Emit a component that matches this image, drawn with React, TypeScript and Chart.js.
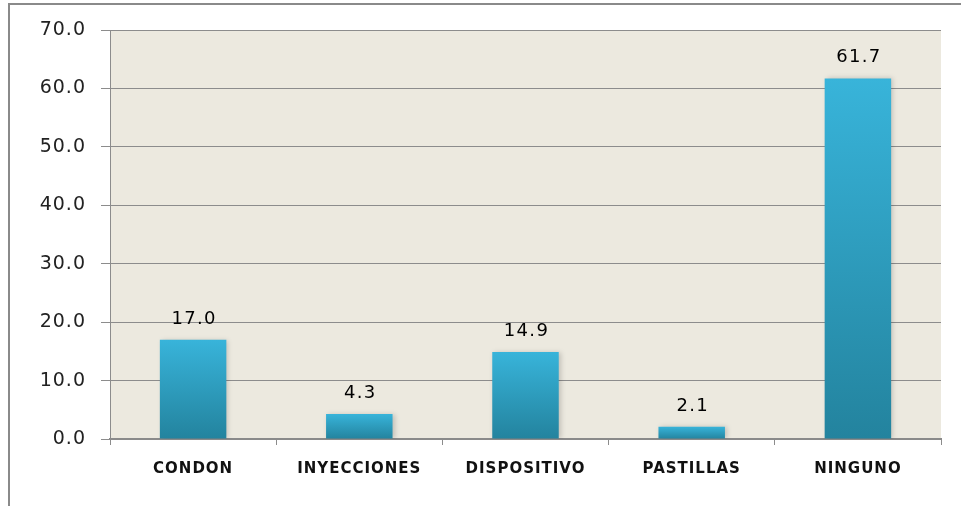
import React, { useEffect, useRef } from "react";
import { Chart, registerables } from "chart.js";

Chart.register(...registerables);

const categories = ["CONDON", "INYECCIONES", "DISPOSITIVO", "PASTILLAS", "NINGUNO"];
const values = [17.0, 4.3, 14.9, 2.1, 61.7];
const yMin = 0;
const yMax = 70;
const yStep = 10;

const GRID = "#8c8c8c";

const framePlugin = {
  id: "frameAndSpacing",
  beforeDraw(chart: any) {
    const ctx = chart.ctx;
    ctx.letterSpacing = "1px";
    const a = chart.chartArea;
    ctx.save();
    ctx.fillStyle = "#ECE9DF";
    ctx.fillRect(a.left, a.top, a.right - a.left, a.bottom - a.top);
    ctx.strokeStyle = "#8a8a8a";
    ctx.lineWidth = 2;
    ctx.beginPath();
    ctx.moveTo(9, chart.height);
    ctx.lineTo(9, 4);
    ctx.lineTo(chart.width, 4);
    ctx.stroke();
    ctx.restore();
  },
  beforeDatasetsDraw(chart: any) {
    const ctx = chart.ctx;
    ctx.save();
    ctx.shadowColor = "rgba(0,0,0,0.18)";
    ctx.shadowBlur = 5;
    ctx.shadowOffsetX = 2;
    ctx.shadowOffsetY = 0;
  },
  afterDatasetsDraw(chart: any) {
    const ctx = chart.ctx;
    ctx.restore();
    const meta = chart.getDatasetMeta(0);
    ctx.save();
    ctx.letterSpacing = "1.3px";
    ctx.font = '18px "DejaVu Sans"';
    ctx.fillStyle = "#000";
    ctx.textAlign = "center";
    ctx.textBaseline = "alphabetic";
    meta.data.forEach((bar: any, i: number) => {
      ctx.fillText(values[i].toFixed(1), bar.x + 1, bar.y - 16);
    });
    ctx.restore();
  },
};

export default function App() {
  const ref = useRef<HTMLCanvasElement | null>(null);
  useEffect(() => {
    if (!ref.current) return;
    const chart = new Chart(ref.current, {
      type: "bar",
      data: {
        labels: categories,
        datasets: [
          {
            data: values,
            barPercentage: 0.4,
            categoryPercentage: 1,
            backgroundColor: (c: any) => {
              const ch = c.chart;
              const ys = ch.scales && ch.scales.y;
              if (!ys || c.raw === undefined) return "#31A3C6";
              const top = ys.getPixelForValue(c.raw);
              const bot = ys.getPixelForValue(0);
              if (!isFinite(top) || !isFinite(bot) || top === bot) return "#31A3C6";
              const g = ch.ctx.createLinearGradient(0, top, 0, bot);
              g.addColorStop(0, "#38B4DA");
              g.addColorStop(1, "#23839E");
              return g;
            },
            borderWidth: 0,
          },
        ],
      },
      options: {
        animation: false,
        responsive: false,
        maintainAspectRatio: false,
        layout: { padding: { left: 0, top: 30, right: 20, bottom: 0 } },
        plugins: { legend: { display: false }, tooltip: { enabled: false } },
        scales: {
          x: {
            afterFit: (s: any) => {
              s.height = 67;
            },
            grid: {
              offset: true,
              drawOnChartArea: false,
              drawTicks: true,
              tickLength: 6,
              color: GRID,
            },
            border: { display: true, color: "#8a8a8a", width: 2 },
            ticks: {
              color: "#111",
              font: { family: "DejaVu Sans", size: 15, weight: "bold" },
              padding: 15,
              maxRotation: 0,
              autoSkip: false,
            },
          },
          y: {
            min: yMin,
            max: yMax,
            afterFit: (s: any) => {
              s.width = 110;
            },
            grid: { color: GRID, lineWidth: 1, tickLength: 9, drawTicks: true },
            border: { display: true, color: GRID, width: 1 },
            ticks: {
              stepSize: yStep,
              color: "#222",
              padding: 15,
              font: { family: "DejaVu Sans", size: 19 },
              callback: (v: any) => Number(v).toFixed(1),
            },
          },
        },
      },
      plugins: [framePlugin],
    });
    return () => chart.destroy();
  }, []);
  return (
    <div style={{ position: "fixed", left: 0, top: 0, width: 961, height: 506, background: "#fff" }}>
      <canvas ref={ref} width={961} height={506} style={{ display: "block" }} />
    </div>
  );
}
